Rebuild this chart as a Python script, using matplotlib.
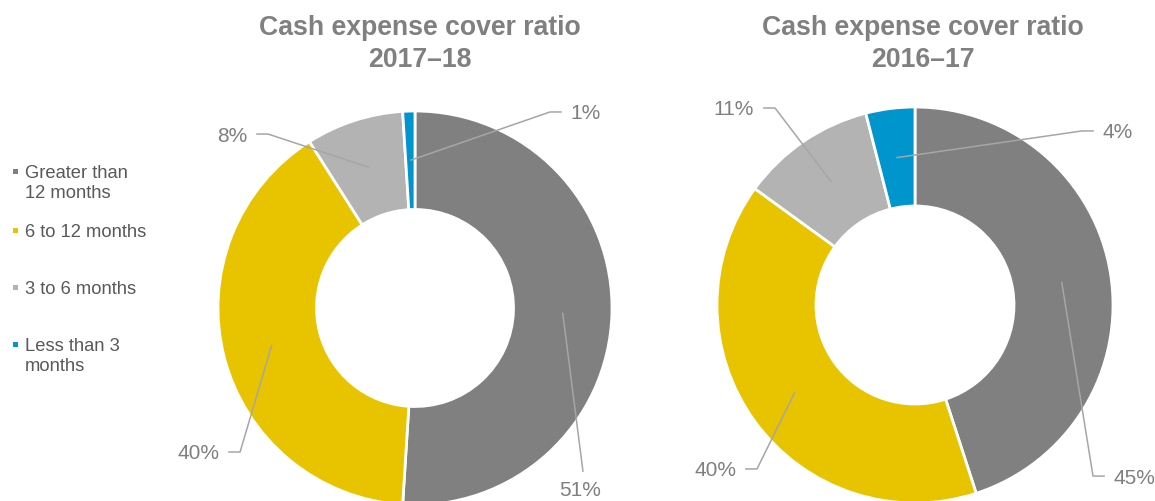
import matplotlib
matplotlib.use("Agg")
import matplotlib.pyplot as plt
from matplotlib.patches import Rectangle
import numpy as np

# ---- data -------------------------------------------------------------
categories = ["Greater than\n12 months", "6 to 12 months", "3 to 6 months", "Less than 3\nmonths"]
colors = ["#808080", "#E8C300", "#B3B3B3", "#0095CC"]
share_2017_18 = [51, 40, 8, 1]
share_2016_17 = [45, 40, 11, 4]
titles = ["Cash expense cover ratio\n2017–18", "Cash expense cover ratio\n2016–17"]

# ---- layout -----------------------------------------------------------
W, H = 1155, 502
EXT = 1.8           # half-size of each donut axes, in pie radii
RING = 0.5          # ring width as a fraction of the radius
ARM = 0.06          # horizontal arm of a leader line

# leader-line elbows (pie-radius units) and which side the label sits on
# side: +1 right, -1 left, 0 label below the elbow
elbows_2017_18 = [(0.853, -0.832, 0), (-0.888, -0.731, -1), (-0.746, 0.883, -1), (0.685, 0.995, 1)]
elbows_2016_17 = [(0.899, -0.864, 1), (-0.798, -0.828, -1), (-0.707, 0.995, -1), (0.843, 0.879, 1)]

plt.rcParams["font.family"] = ["Liberation Sans", "DejaVu Sans"]
fig = plt.figure(figsize=(W / 100, H / 100), dpi=100)


def donut_axes(cx, cy, r):
    return fig.add_axes([(cx - EXT * r) / W, (H - cy - EXT * r) / H,
                         2 * EXT * r / W, 2 * EXT * r / H])


def draw_donut(ax, values, elbows):
    wedges, _ = ax.pie(values, colors=colors, startangle=90, counterclock=False,
                       radius=1.0,
                       wedgeprops=dict(width=RING, edgecolor="white", linewidth=2.0))
    for w, v, (ex, ey, side) in zip(wedges, values, elbows):
        mid = np.deg2rad((w.theta1 + w.theta2) / 2)
        ar = 1.0 - RING / 2
        axx, axy = ar * np.cos(mid), ar * np.sin(mid)
        xs = [axx, ex]
        ys = [axy, ey]
        if side != 0:
            xs.append(ex + side * ARM)
            ys.append(ey)
        ax.plot(xs, ys, color="#A6A6A6", lw=1.1, solid_capstyle="butt", clip_on=False)
        if side == 0:
            ax.text(ex - 0.015, ey - 0.09, f"{v}%", ha="center", va="center",
                    fontsize=15, color="#7F7F7F", clip_on=False)
        else:
            ax.text(ex + side * (ARM + 0.045), ey - 0.005, f"{v}%",
                    ha="left" if side > 0 else "right", va="center",
                    fontsize=15, color="#7F7F7F", clip_on=False)
    ax.set_xlim(-EXT, EXT)
    ax.set_ylim(-EXT, EXT)
    ax.set_aspect("equal")
    ax.axis("off")


ax1 = donut_axes(415, 309, 197)
draw_donut(ax1, share_2017_18, elbows_2017_18)
ax2 = donut_axes(915, 306, 198)
draw_donut(ax2, share_2016_17, elbows_2016_17)

# titles
for x_px, t in zip([420, 923], titles):
    fig.text(x_px / W, 1 - 44 / H, t, ha="center", va="center", fontsize=19.2,
             fontweight="bold", color="#808080", linespacing=1.3)

# legend
legend_rows = [172, 231, 288, 345]
for lab, col, y_px in zip(categories, colors, legend_rows):
    fig.patches.append(Rectangle((13 / W, 1 - (y_px + 3) / H), 5 / W, 5 / H,
                                 transform=fig.transFigure, facecolor=col,
                                 edgecolor="none", figure=fig))
    fig.text(25 / W, 1 - (y_px - 7) / H, lab, ha="left", va="top", fontsize=13.2,
             color="#595959", linespacing=1.2)

fig.savefig("out.png", dpi=100)
